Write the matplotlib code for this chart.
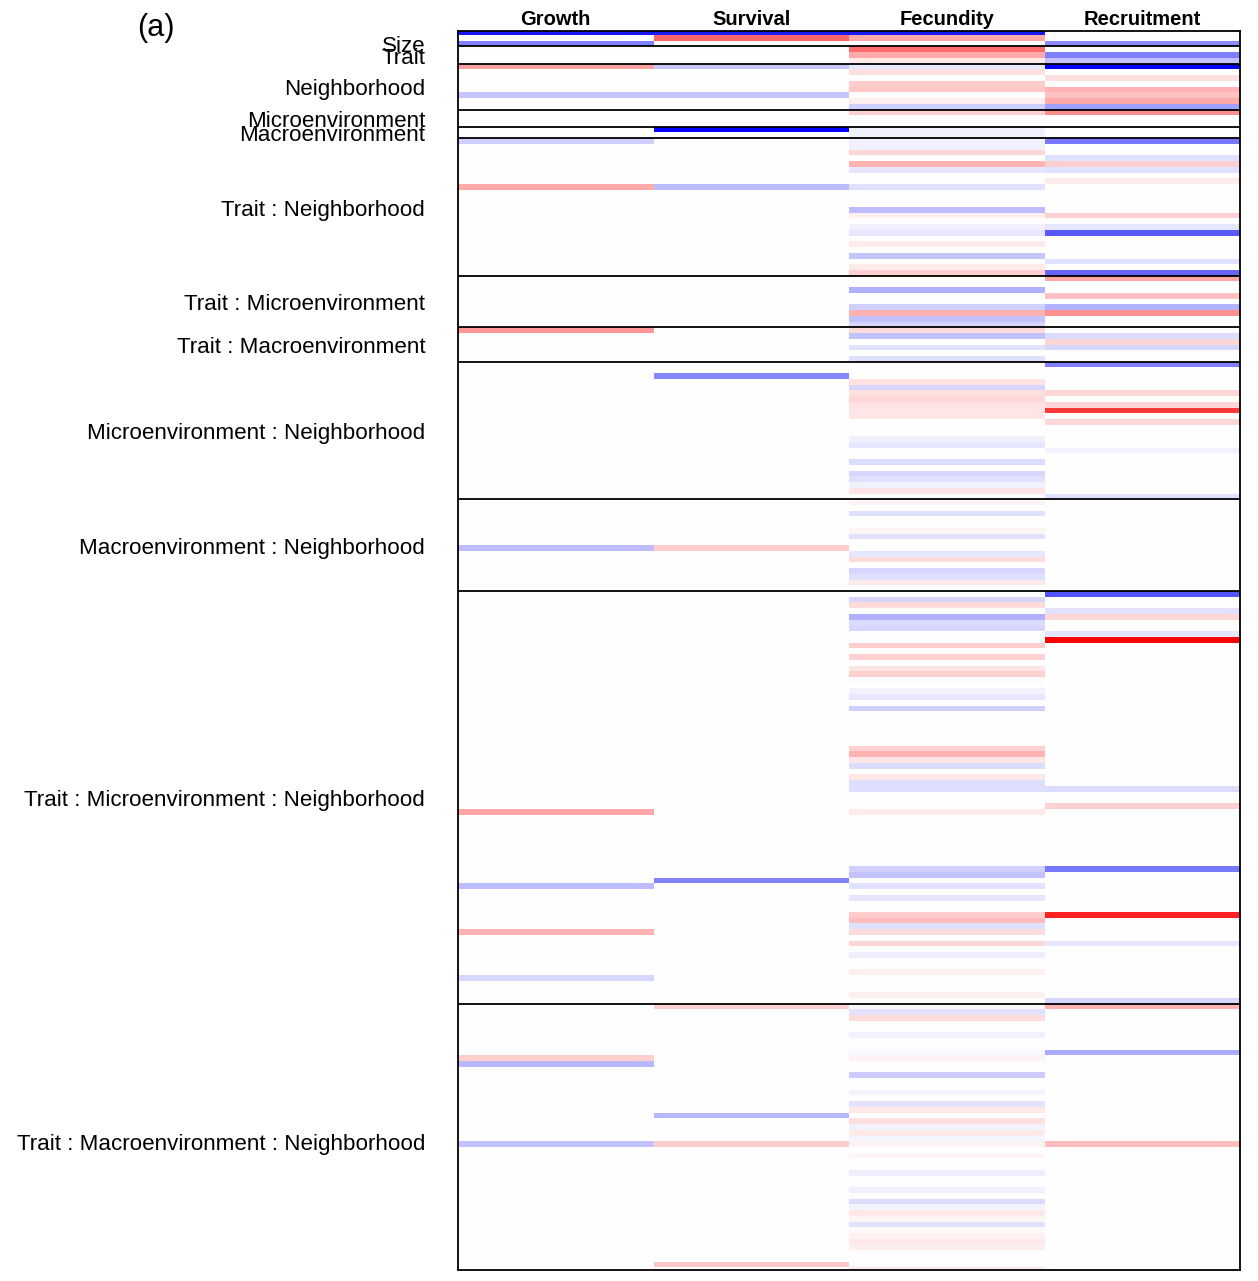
import numpy as np
import matplotlib
matplotlib.use("Agg")
import matplotlib.pyplot as plt
import matplotlib.transforms as mtransforms
from matplotlib.colors import LinearSegmentedColormap

plt.rcParams["font.family"] = ["Liberation Sans", "DejaVu Sans"]

columns = ["Growth", "Survival", "Fecundity", "Recruitment"]
n_rows = 218

group_names = ["Size", "Trait", "Neighborhood", "Microenvironment", "Macroenvironment",
               "Trait : Neighborhood", "Trait : Microenvironment", "Trait : Macroenvironment",
               "Microenvironment : Neighborhood", "Macroenvironment : Neighborhood",
               "Trait : Microenvironment : Neighborhood",
               "Trait : Macroenvironment : Neighborhood"]
group_start = [2, 3, 6, 14, 17, 19, 43, 52, 58, 82, 98, 170]
group_end = [3, 6, 14, 17, 19, 43, 52, 58, 82, 98, 170, 218]

# (row, standardized effect) for every non-blank cell
growth = [(0, -0.9), (2, -0.5), (6, 0.37), (11, -0.22), (19, -0.18), (27, 0.33),
          (52, 0.41), (90, -0.26), (136, 0.35), (149, -0.26), (157, 0.3),
          (165, -0.16), (179, 0.18), (180, -0.28), (194, -0.24)]

survival = [(0, -0.9), (1, 0.6), (6, -0.22), (11, -0.22), (17, -1.0), (27, -0.26),
            (60, -0.47), (90, 0.2), (148, -0.49), (170, 0.18), (189, -0.28),
            (194, 0.2), (215, 0.22)]

fecundity = [(0, -0.9), (1, 0.33), (3, 0.57), (4, 0.33), (5, 0.08), (6, -0.08),
             (7, 0.12), (9, 0.2), (10, 0.22), (12, 0.07), (13, -0.18), (14, 0.18),
             (17, -0.05), (18, -0.06), (19, -0.06), (20, -0.06), (21, 0.16),
             (23, 0.3), (24, -0.1), (27, -0.12), (31, -0.26), (32, 0.06),
             (34, -0.06), (35, -0.1), (37, 0.08), (39, -0.22), (41, 0.08),
             (42, 0.18), (45, -0.31), (48, -0.18), (49, 0.3), (50, -0.24),
             (51, -0.16), (52, 0.14), (53, -0.24), (55, -0.12), (57, -0.12),
             (61, 0.11), (62, -0.16), (63, 0.12), (64, 0.16), (65, 0.11),
             (66, 0.1), (67, 0.1), (71, -0.06), (72, -0.1), (75, -0.14),
             (77, -0.16), (78, -0.12), (79, -0.05), (80, 0.1), (82, 0.04),
             (84, -0.12), (87, 0.04), (88, -0.12), (91, -0.1), (92, 0.14),
             (94, -0.16), (95, -0.12), (96, 0.08), (99, -0.16), (100, 0.14),
             (102, -0.31), (103, -0.14), (104, -0.16), (107, 0.2), (109, 0.18),
             (111, 0.1), (112, 0.18), (113, -0.02), (115, -0.05), (116, -0.1),
             (118, -0.18), (125, 0.18), (126, 0.3), (127, 0.1), (128, -0.14),
             (130, 0.09), (131, -0.13), (132, -0.13), (136, 0.08), (146, -0.18),
             (147, -0.24), (149, -0.11), (151, -0.1), (154, 0.2), (155, 0.26),
             (156, -0.12), (157, 0.14), (159, 0.16), (161, -0.07), (164, 0.06),
             (168, 0.06), (170, -0.03), (171, -0.11), (172, 0.14), (175, -0.05),
             (178, -0.03), (179, 0.05), (182, -0.2), (185, -0.04), (187, -0.11),
             (188, 0.09), (190, 0.13), (191, -0.05), (192, 0.08), (193, -0.04),
             (194, 0.04), (196, 0.04), (199, -0.07), (202, -0.06), (204, -0.14),
             (205, -0.04), (206, 0.09), (207, 0.04), (208, -0.12), (209, 0.03),
             (210, 0.05), (211, 0.09), (212, 0.07), (216, 0.08)]

recruitment = [(2, -0.45), (4, -0.5), (5, -0.24), (6, -1.0), (8, 0.12), (10, 0.3),
               (11, 0.24), (12, 0.33), (13, -0.37), (14, 0.45), (19, -0.53),
               (22, -0.12), (23, 0.18), (24, -0.12), (26, 0.08), (32, 0.18),
               (34, -0.1), (35, -0.65), (40, -0.12), (42, -0.6), (43, 0.35),
               (46, 0.24), (48, -0.3), (49, 0.43), (53, -0.14), (54, 0.16),
               (55, -0.16), (58, -0.5), (63, 0.16), (65, 0.16), (66, 0.78),
               (68, 0.16), (73, -0.05), (81, -0.12), (98, -0.67), (101, -0.11),
               (102, 0.16), (105, -0.1), (106, 1.0), (132, -0.14), (135, 0.18),
               (146, -0.53), (154, 0.86), (159, -0.1), (169, -0.16), (170, 0.3),
               (178, -0.33), (194, 0.26)]

mat = np.zeros((n_rows, len(columns)))
for j, col in enumerate([growth, survival, fecundity, recruitment]):
    for r, v in col:
        mat[r, j] = v

cmap = LinearSegmentedColormap.from_list("bwr_r", ["blue", "white", "red"])

fig = plt.figure(figsize=(12.58, 12.81), dpi=100)
ax = fig.add_axes([458 / 1258, 1 - 1270 / 1281, 782 / 1258, 1239 / 1281])

ax.pcolormesh(np.arange(len(columns) + 1), np.arange(n_rows + 1), mat,
              cmap=cmap, vmin=-1, vmax=1, shading="flat", antialiased=False)
ax.set_xlim(0, len(columns))
ax.set_ylim(216.46, 0.30)

ax.hlines(group_end[:-1], 0, len(columns), colors="black", linewidth=1.3)

for s in ax.spines.values():
    s.set_linewidth(1.3)
ax.set_xticks([])
ax.set_yticks([])

lab_tr = mtransforms.blended_transform_factory(ax.transAxes, ax.transData)
for name, a, b in zip(group_names, group_start, group_end):
    ax.text(-0.042, (a + b) / 2 + 0.15, name, transform=lab_tr, ha="right",
            va="center_baseline", fontsize=16.1)

col_tr = mtransforms.blended_transform_factory(ax.transData, ax.transAxes)
for j, name in enumerate(columns):
    ax.text(j + 0.5, 1 + 6 / 1239, name, transform=col_tr, ha="center",
            va="baseline", fontsize=14.5, fontweight="bold")

fig.text(156 / 1258, 1 - 28 / 1281, "(a)", ha="center", va="center", fontsize=22)

fig.savefig("out.png", dpi=100)
